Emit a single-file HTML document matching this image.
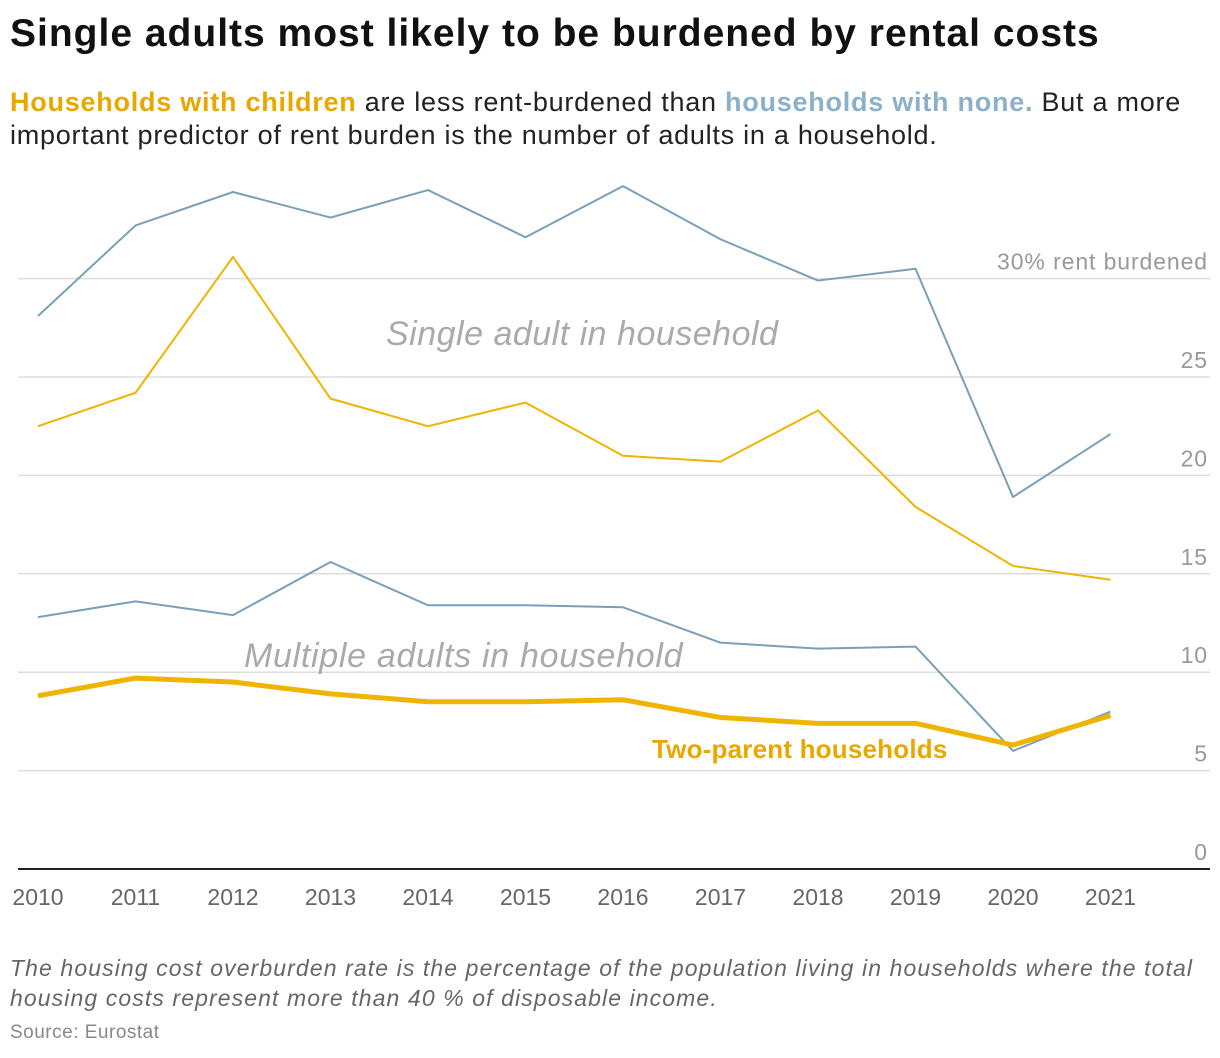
<!DOCTYPE html>
<html><head><meta charset="utf-8"><style>
body{margin:0;width:1220px;height:1058px;background:#fff;font-family:"Liberation Sans",sans-serif;overflow:hidden;position:relative}
h1{position:absolute;left:10px;top:12px;margin:0;font-size:39px;font-weight:bold;color:#111;letter-spacing:1.0px;white-space:nowrap}
.sub{position:absolute;left:10px;top:86px;font-size:27px;line-height:33px;color:#222;width:1210px;letter-spacing:0.75px}
.note{position:absolute;left:10px;top:953px;font-size:23px;font-style:italic;color:#666;line-height:30px;letter-spacing:1.1px;white-space:nowrap}
.src{position:absolute;left:10px;top:1022px;font-size:19px;color:#888;letter-spacing:0.5px}
</style></head><body>
<h1>Single adults most likely to be burdened by rental costs</h1>
<div class="sub"><b style="color:#e8a800">Households with children</b> are less rent-burdened than <b style="color:#8ab0cc">households with none.</b> But a more<br>important predictor of rent burden is the number of adults in a household.</div>
<svg id="c" width="1220" height="940" style="position:absolute;left:0;top:0"></svg>
<div class="note">The housing cost overburden rate is the percentage of the population living in households where the total<br>housing costs represent more than 40 % of disposable income.</div>
<div class="src">Source: Eurostat</div>
<script>
const years=[2010,2011,2012,2013,2014,2015,2016,2017,2018,2019,2020,2021];
const singleNoKids=[28.1,32.7,34.4,33.1,34.5,32.1,34.7,32.0,29.9,30.5,18.9,22.1];
const singleKids=[22.5,24.2,31.1,23.9,22.5,23.7,21.0,20.7,23.3,18.4,15.4,14.7];
const multiNoKids=[12.8,13.6,12.9,15.6,13.4,13.4,13.3,11.5,11.2,11.3,6.0,8.0];
const twoParent=[8.8,9.7,9.5,8.9,8.5,8.5,8.6,7.7,7.4,7.4,6.3,7.8];
const yTicks=[0,5,10,15,20,25,30];
const ns="http://www.w3.org/2000/svg",svg=document.getElementById('c');
const X=y=>38+(y-2010)*97.5, Y=v=>869-v*19.68;
function mk(t,a,txt){const e=document.createElementNS(ns,t);for(const k in a)e.setAttribute(k,a[k]);if(txt!=null)e.textContent=txt;svg.appendChild(e);return e;}
yTicks.forEach(t=>{
 if(t>0){const g=mk('line',{x1:18,x2:1210,y1:Y(t),y2:Y(t),stroke:'#ddd','stroke-width':1.5});
 
 }
 const l=mk('text',{x:1208,y:Y(t)-9,'text-anchor':'end','font-size':23,fill:'#999','letter-spacing':'0.9'},t===30?'30% rent burdened':String(t));
 
 
});
const ax=mk('line',{x1:18,x2:1210,y1:869,y2:869,stroke:'#222','stroke-width':2});


years.forEach(y=>{const t=mk('text',{x:X(y),y:905,'text-anchor':'middle','font-size':23,fill:'#666'},String(y));
 
 });
function line(vals,col,w,name){const p=mk('polyline',{points:vals.map((v,i)=>X(years[i])+','+Y(v)).join(' '),fill:'none',stroke:col,'stroke-width':w,'stroke-linejoin':'round'});
 
 }
line(singleNoKids,'#7aa0b8',2,'line-single-no-children');
line(singleKids,'#f0b400',2,'line-single-with-children');
line(multiNoKids,'#7aa0b8',2,'line-multiple-no-children');
line(twoParent,'#f0b400',5,'line-two-parent');
function lab(x,y,txt,opt,name){const t=mk('text',Object.assign({x:x,y:y},opt),txt);
 
 }
lab(386,345,'Single adult in household',{'font-size':34,'font-style':'italic',fill:'#aaa','letter-spacing':'0.5'},'label-single-adult');
lab(244,667,'Multiple adults in household',{'font-size':34,'font-style':'italic',fill:'#aaa','letter-spacing':'0.7'},'label-multiple-adults');
lab(652,758,'Two-parent households',{'font-size':26,'font-weight':'bold',fill:'#e8a800','letter-spacing':'0.2'},'label-two-parent');
</script>
</body></html>
